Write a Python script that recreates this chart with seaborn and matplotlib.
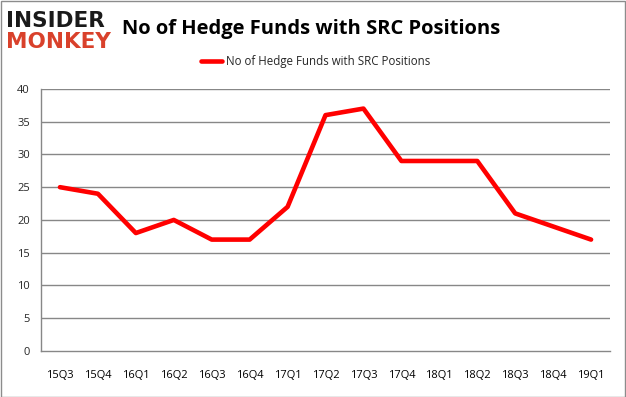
import numpy as np
import pandas as pd
import matplotlib
matplotlib.use('Agg')
import matplotlib.pyplot as plt
import seaborn as sns

# Quarterly count of hedge funds holding SRC
quarters = ['15Q3', '15Q4', '16Q1', '16Q2', '16Q3', '16Q4', '17Q1', '17Q2',
            '17Q3', '17Q4', '18Q1', '18Q2', '18Q3', '18Q4', '19Q1']
fund_counts = [25, 24, 18, 20, 17, 17, 22, 36, 37, 29, 29, 29, 21, 19, 17]
y_ticks = [0, 5, 10, 15, 20, 25, 30, 35, 40]
series_name = 'No of Hedge Funds with SRC Positions'

df = pd.DataFrame({'quarter': quarters, 'funds': fund_counts})
df['pos'] = np.arange(len(df))

sns.set_style('white')
plt.rcParams['font.family'] = ['Open Sans', 'DejaVu Sans']

fig = plt.figure(figsize=(6.26, 3.97), dpi=100)
ax = fig.add_axes([0.0655, 0.116, 0.909, 0.66])

grid_col = '#878787'
for v in y_ticks[1:]:
    ax.axhline(v, color=grid_col, lw=1.0, zorder=1)

sns.lineplot(data=df, x='pos', y='funds', color='#ff0000', lw=3.3,
             label=series_name, ax=ax, zorder=3)

ax.set_xlim(-0.5, len(quarters) - 0.5)
ax.set_ylim(0, 40)
ax.set_yticks(y_ticks)
ax.set_xticks(df['pos'])
ax.set_xticklabels(quarters)
ax.set_xticks(np.arange(-0.5, len(quarters)), minor=True)
ax.tick_params(axis='x', which='major', length=0, pad=14, labelsize=8, colors='black')
ax.tick_params(axis='x', which='minor', length=5, color=grid_col, width=1, direction='out')
ax.tick_params(axis='y', length=5, color=grid_col, width=1, direction='out', labelsize=8, pad=3)
ax.set_xlabel('')
ax.set_ylabel('')
for side in ['top', 'right']:
    ax.spines[side].set_visible(False)
for side in ['left', 'bottom']:
    ax.spines[side].set_color(grid_col)
    ax.spines[side].set_linewidth(1.0)

leg = ax.legend(loc='lower center', bbox_to_anchor=(0.483, 1.04), frameon=False,
                fontsize=8.3, handlelength=1.8, handletextpad=0.35)

# Title and logo
fig.text(0.497, 0.928, series_name, ha='center', va='center',
         fontsize=14.5, fontweight='bold', color='black')
fig.text(0.01, 0.948, 'INSIDER', ha='left', va='center', fontsize=15.5,
         fontweight='heavy', color='#1a1a1a', family=['DejaVu Sans'])
fig.text(0.01, 0.893, 'MONKEY', ha='left', va='center', fontsize=15.5,
         fontweight='heavy', color='#d9412b', family=['DejaVu Sans'])

# outer border
fig.patches.append(matplotlib.patches.Rectangle((0.001, 0.001), 0.997, 0.997,
                   transform=fig.transFigure, fill=False, edgecolor='#8c8c8c', lw=1))

fig.savefig('out.png', dpi=100)
